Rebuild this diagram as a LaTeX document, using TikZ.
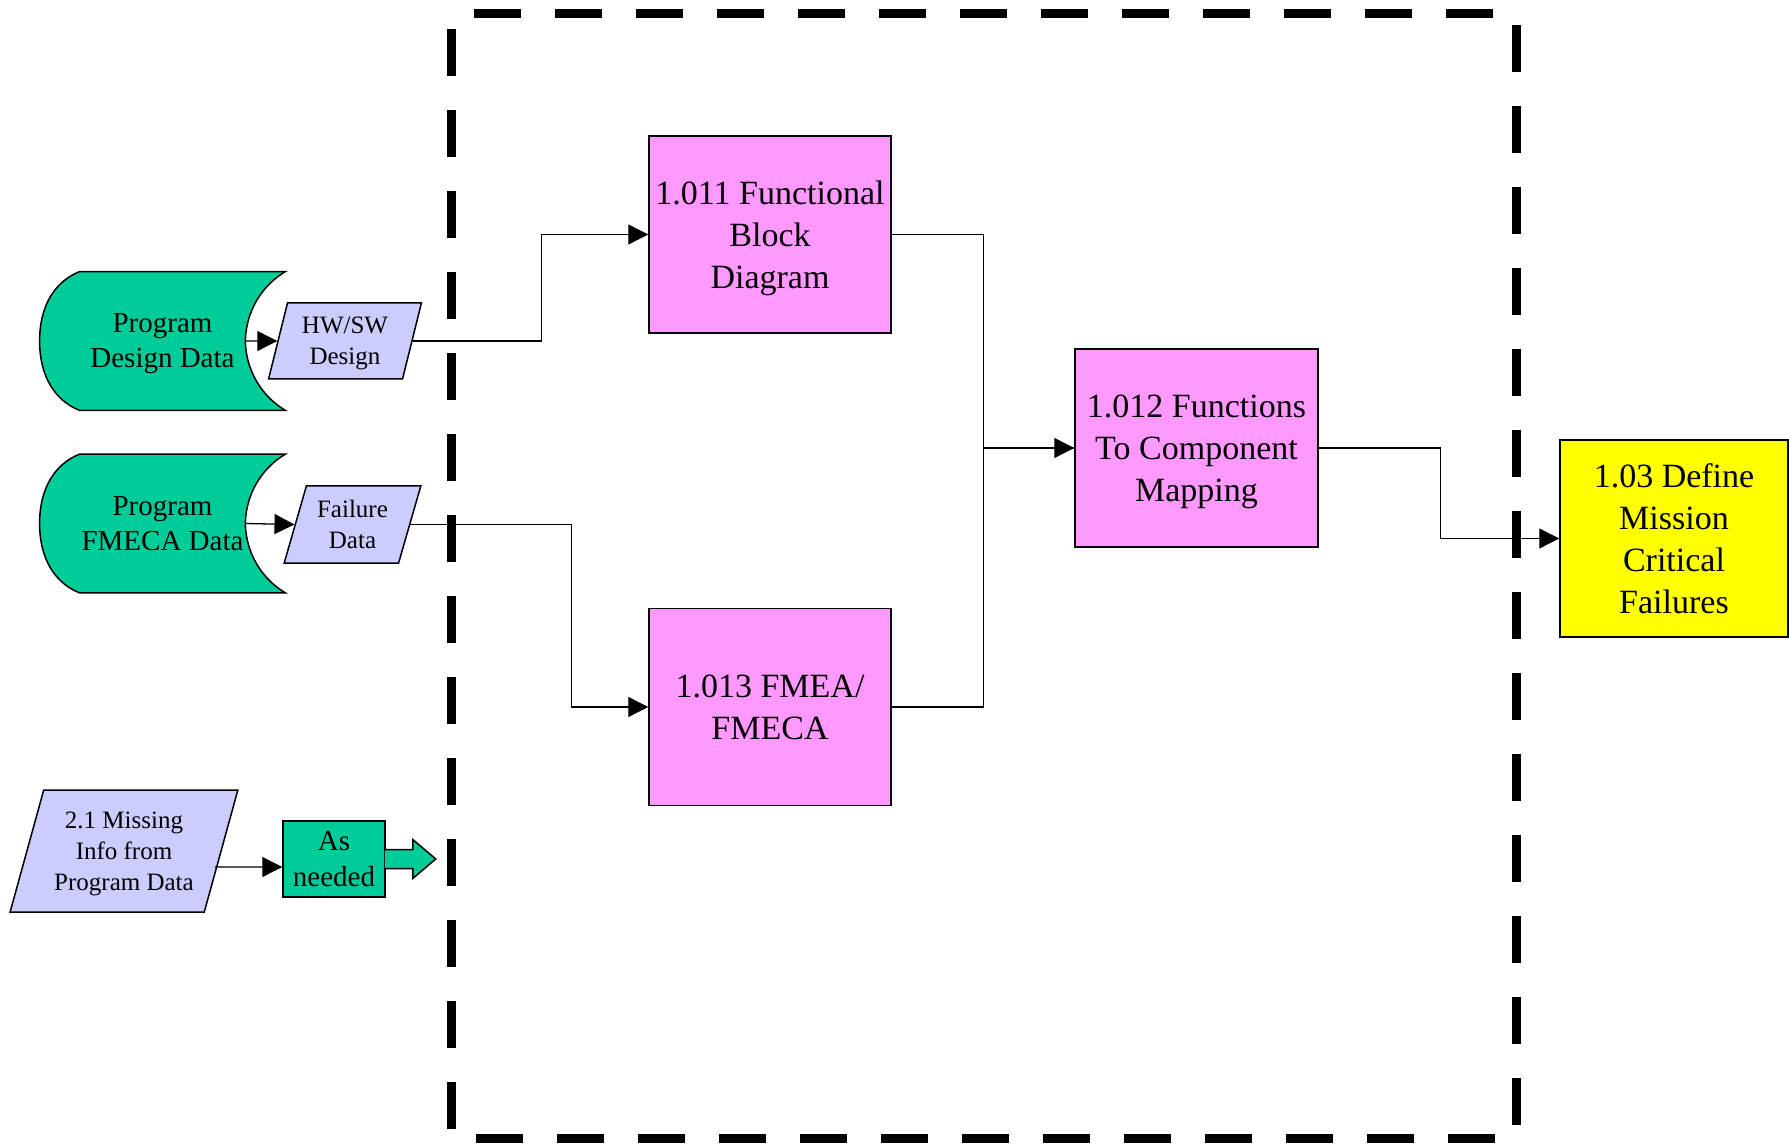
\documentclass[tikz,border=0pt]{standalone}
\usepackage{fontspec}
\setmainfont{Liberation Serif}
\usetikzlibrary{shapes.geometric,arrows.meta,backgrounds}

\definecolor{procpink}{HTML}{FF99FF}
\definecolor{datagreen}{HTML}{00CC99}
\definecolor{iolav}{HTML}{CCCCFF}
\definecolor{outyellow}{HTML}{FFFF00}

\begin{document}
\begin{tikzpicture}[x=0.5pt, y=-0.5pt,
	proc/.style={draw, line width=0.75pt, fill=procpink, minimum width=121pt, minimum height=98.5pt, inner sep=1pt, text depth=0pt, align=center, font=\fontsize{17}{21}\selectfont},
	store/.style={minimum width=122.5pt, minimum height=69pt, inner sep=0pt, text depth=0pt, align=center, font=\fontsize{14.5}{17.5}\selectfont},
	storeline/.style={draw, line width=0.75pt, fill=datagreen},
	io/.style={trapezium, trapezium stretches=true, draw, line width=0.75pt, fill=iolav, inner sep=1pt, text depth=0pt, align=center, font=\fontsize{12.5}{15.5}\selectfont},
	tag/.style={draw, line width=0.75pt, fill=datagreen, minimum width=51pt, minimum height=38pt, inner sep=1pt, text depth=0pt, align=center, font=\fontsize{14.5}{18}\selectfont},
	flow/.style={line width=0.65pt, -{Triangle[length=10pt,width=10pt]}},
	link/.style={line width=0.65pt},
	frame/.style={line width=4.5pt, dash pattern=on 23.5pt off 17pt, dash phase=29pt}]
	\useasboundingbox (0,0) rectangle (1789,1144);
	
	%Frame around the 1.01 steps
	\draw[frame] (451,14) -- (1516,14) -- (1516,1138) -- (451,1138) -- cycle;
	
	%Process boxes
	\node[proc] (fbd) at (770,234.5) {1.011 Functional\\Block\\Diagram};
	\node[proc] (fmea) at (770,707) {1.013 FMEA/\\FMECA};
	\node[proc, minimum width=121.5pt, minimum height=99pt] (map) at (1196.5,448) {1.012 Functions\\To Component\\Mapping};
	\node[proc, fill=outyellow, minimum width=114pt] (def) at (1674,538.5) {1.03 Define\\Mission\\Critical\\Failures};
	
	%Program data stores
	\node[store] (pdd) at (162.5,341) {Program\\Design Data};
	\node[store] (pfd) at (162.5,523.5) {Program\\FMECA Data};
	\begin{scope}[on background layer]
		\foreach \s in {pdd,pfd}
			\draw[storeline] ([xshift=20pt]\s.north west) -- (\s.north east)
				.. controls ([shift={(-30,18)}]\s.north east) and ([shift={(-40,-21)}]\s.east) .. ([xshift=-20pt]\s.east)
				.. controls ([shift={(-40,21)}]\s.east) and ([shift={(-30,-18)}]\s.south east) .. (\s.south east)
				-- ([xshift=20pt]\s.south west)
				.. controls ([shift={(15,-10)}]\s.south west) and ([shift={(0,35)}]\s.west) .. (\s.west)
				.. controls ([shift={(0,-35)}]\s.west) and ([shift={(15,10)}]\s.north west) .. cycle;
	\end{scope}
	
	%Inputs
	\node[io, trapezium left angle=74, trapezium right angle=106, minimum width=76.5pt, minimum height=38pt] (hws) at (345,341) {HW/SW\\Design};
	\node[io, trapezium left angle=71, trapezium right angle=109, minimum width=68.5pt, minimum height=38.5pt] (fd) at (352.5,524.5) {Failure\\Data};
	\node[io, trapezium left angle=70, trapezium right angle=110, minimum width=114pt, minimum height=61pt] (miss) at (124,851) {2.1 Missing\\Info from\\Program Data};
	\node[tag] (need) at (334,859) {As\\needed};
	\draw[link, line width=0.75pt, fill=datagreen] ([shift={(-1,-9.5)}]need.east) -- ++(28,0) -- ++(0,-10) -- ++(23,19.5) -- ++(-23,19.5) -- ++(0,-10) -- ++(-28,0);
	
	%Connectors
	\draw[flow] ([xshift=-20pt]pdd.east) -- (hws.west);
	\draw[flow] ([xshift=-20pt]pfd.east) -- (fd.west);
	\draw[flow] (hws.east) -- ++(129,0) |- (fbd.west);
	\draw[flow] (fd.east) -- ++(161,0) |- (fmea.west);
	\draw[flow] (fbd.east) -- ++(92,0) |- (map.west);
	\draw[link] (fmea.east) -- ++(92,0) |- (map.west);
	\draw[flow] (map.east) -- ++(122,0) |- (def.west);
	\draw[flow] ([shift={(-7,16)}]miss.east) -- ([shift={(0,8)}]need.west);
\end{tikzpicture}
\end{document}
